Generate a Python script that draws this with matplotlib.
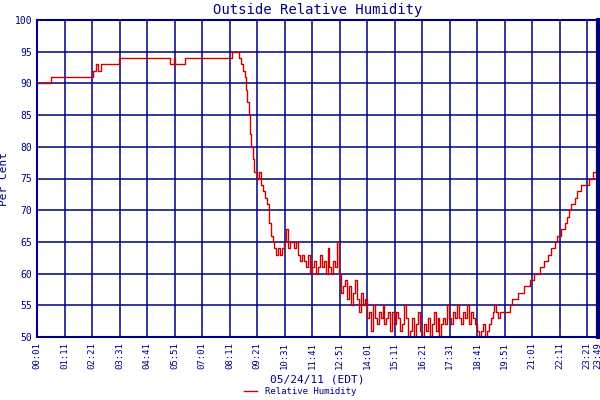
import numpy as np
from matplotlib import pyplot as plt

# minutes since midnight, humidity (%)
early_min = [1, 37, 144, 150, 155, 164, 170, 175, 210, 340, 350, 352, 378, 497,
             515, 520, 525, 530, 533, 536, 540, 543, 546, 550, 553, 560, 565, 570,
             575, 580, 585, 590, 595]
early_val = [90, 91, 92, 93, 92, 93, 93, 93, 94, 93, 94, 93, 94, 95,
             94, 93, 92, 91, 89, 87, 85, 82, 80, 78, 76, 75, 76, 74,
             73, 72, 71, 68, 66]
noisy_val = [65, 64, 63, 64, 63, 64, 65,
             67, 64, 65, 65, 64, 65,
             63, 62, 63, 62, 61, 63, 60, 61,
             62, 60, 61, 63, 61, 62, 60, 64, 61, 60, 62, 61, 65, 60,
             57, 58, 59, 56, 58, 55, 57, 59, 56, 54, 57, 55, 56, 53,
             54, 51, 55, 53, 52, 54, 53, 55, 52, 53, 54, 51, 54, 52,
             54, 53, 51, 52, 55, 53, 50, 51, 53, 50, 52, 54, 51, 50,
             52, 51, 53, 50, 52, 54, 51, 53, 50, 52, 53, 52, 55, 53,
             52, 54, 53, 55, 53, 52, 54, 53, 55, 52, 54, 53, 52, 51,
             50, 51, 52, 50, 51, 52, 53, 54, 55, 54, 53, 54]
late_min = [1195, 1205, 1210, 1225, 1240, 1255, 1265, 1280, 1290, 1300, 1310, 1320,
            1325, 1335, 1345, 1350, 1355, 1360, 1370, 1375, 1385, 1405, 1415, 1429]
late_val = [54, 55, 56, 57, 58, 59, 60, 61, 62, 63, 64, 65,
            66, 67, 68, 69, 70, 71, 72, 73, 74, 75, 76, 76]

tick_min = list(range(1, 1402, 70)) + [1429]
tick_labels = [f"{m // 60:02d}:{m % 60:02d}" for m in tick_min]

noisy_min = [600 + 5 * i for i in range(len(noisy_val))]
minutes = np.array(early_min + noisy_min + late_min)
values = np.array(early_val + noisy_val + late_val)

navy = "#000080"
plt.rcParams["font.family"] = ["DejaVu Sans Mono"]
fig = plt.figure(figsize=(6, 4), dpi=100)
ax = fig.add_axes([0.062, 0.1575, 0.935, 0.7925])
ax.plot(minutes, values, drawstyle="steps-post", color="#cc0000", lw=1, label="Relative Humidity")
ax.set_xlim(1, 1429)
ax.set_ylim(50, 100)
ax.set_yticks(range(50, 101, 5))
ax.set_xticks(tick_min)
ax.set_xticklabels(tick_labels, rotation=90, fontsize=6.5, color=navy)
ax.tick_params(axis="y", labelsize=7, colors=navy, length=0)
ax.tick_params(axis="x", length=0, colors=navy)
ax.grid(True, color=navy, lw=1.1)
ax.set_axisbelow(True)
for s in ax.spines.values():
    s.set_color(navy)
    s.set_linewidth(1.5)
ax.spines["right"].set_linewidth(3)
ax.set_title("Outside Relative Humidity", color=navy, fontsize=10, pad=4)
ax.set_ylabel("Per Cent", color=navy, fontsize=8)
ax.set_xlabel("05/24/11 (EDT)", color=navy, fontsize=8, labelpad=4)
fig.legend(loc="lower center", bbox_to_anchor=(0.5, -0.01), frameon=False,
           fontsize=6.5, labelcolor=navy, handlelength=1.5)
fig.savefig("out.png")
